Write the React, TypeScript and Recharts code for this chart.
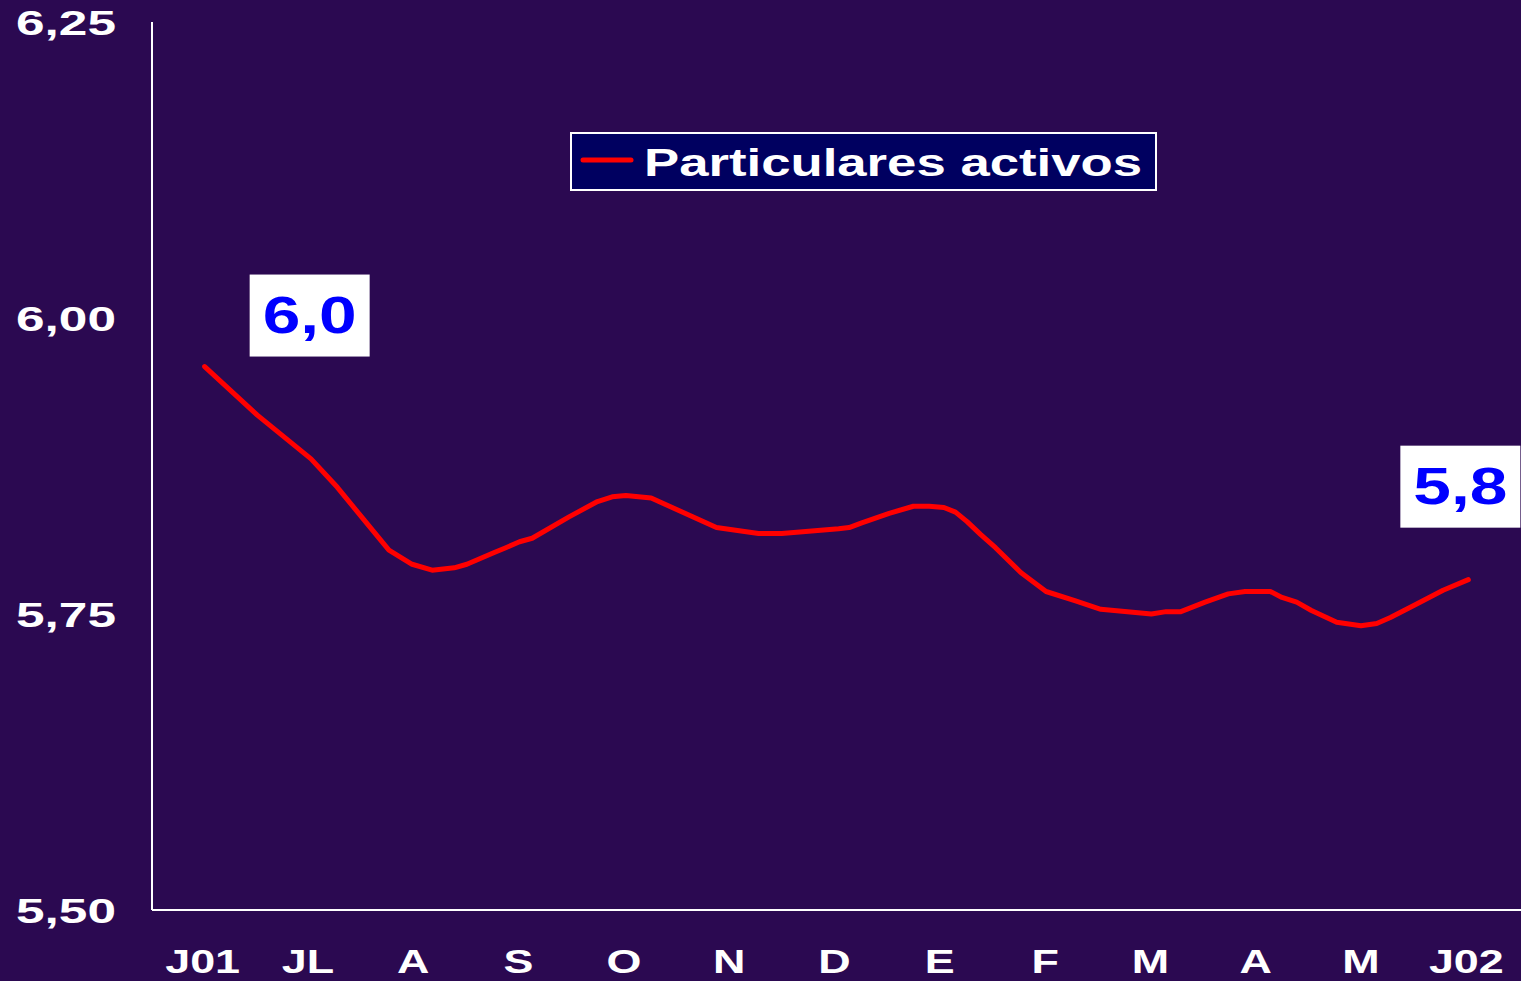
import { LineChart, Line, XAxis, YAxis } from "recharts";

const MESES = ["J01", "JL", "A", "S", "O", "N", "D", "E", "F", "M", "A", "M", "J02"];
const MES_TICKS = [0, 1, 2, 3, 4, 5, 6, 7, 8, 9, 10, 11, 12];
const Y_TICKS = [5.5, 5.75, 6, 6.25];

// posición en meses desde junio 2001 y tipo (%)
const POS = [
  0, 0.5, 1.01, 1.26, 1.49, 1.75, 1.97, 2.16, 2.37, 2.49, 2.75, 2.86, 2.99, 3.11, 3.46, 3.73, 3.87, 4.0,
  4.24, 4.86, 5.26, 5.48, 6.02, 6.12, 6.24, 6.5, 6.73, 6.88, 7.02, 7.13, 7.24, 7.37, 7.51, 7.75, 7.87,
  7.99, 8.27, 8.51, 8.99, 9.13, 9.27, 9.5, 9.72, 9.88, 10.12, 10.23, 10.37, 10.51, 10.75, 10.98, 11.13,
  11.26, 11.5, 11.76, 12.0,
];
const TIPO = [
  5.959, 5.918, 5.881, 5.857, 5.832, 5.804, 5.792, 5.787, 5.789, 5.792, 5.802, 5.806, 5.811, 5.814, 5.832,
  5.845, 5.849, 5.85, 5.848, 5.823, 5.818, 5.818, 5.822, 5.823, 5.827, 5.835, 5.841, 5.841, 5.84, 5.836,
  5.828, 5.817, 5.806, 5.785, 5.777, 5.769, 5.761, 5.754, 5.75, 5.752, 5.752, 5.76, 5.767, 5.769, 5.769,
  5.764, 5.76, 5.753, 5.743, 5.74, 5.742, 5.747, 5.758, 5.77, 5.779,
];
const ETIQUETAS = ["6,0", "5,8"];

const data = POS.map((m, i) => ({ m, tipo: TIPO[i] }));

const BG = "#2b0951";
const FONT = "'Liberation Sans', Arial, sans-serif";

function XTick(props: any) {
  const { x, y, payload } = props;
  return (
    <g transform={`translate(${x - 2},${y + 63})`}>
      <text transform="scale(1.32,1)" textAnchor="middle" fill="#fff" fontSize={34} fontWeight="bold" fontFamily={FONT}>
        {MESES[payload.value]}
      </text>
    </g>
  );
}

function YTick(props: any) {
  const { x, y, payload } = props;
  return (
    <text
      x={x - 36}
      y={y + 13}
      textAnchor="end"
      fill="#fff"
      fontSize={35}
      fontWeight="bold"
      fontFamily={FONT}
      textLength={100}
      lengthAdjust="spacingAndGlyphs"
    >
      {payload.value.toFixed(2).replace(".", ",")}
    </text>
  );
}

function PuntoLabel(props: any) {
  const { x, y, index } = props;
  const last = data.length - 1;
  if (index !== 0 && index !== last) return null;
  const first = index === 0;
  const rx = first ? x + 45 : x - 68;
  const ry = first ? y - 92 : y - 134;
  return (
    <g>
      <rect x={rx} y={ry} width={120} height={82} fill="#fff" />
      <text
        x={rx + 60}
        y={ry + 58}
        textAnchor="middle"
        fill="#0000ff"
        fontSize={51}
        fontWeight="bold"
        fontFamily={FONT}
        textLength={94}
        lengthAdjust="spacingAndGlyphs"
      >
        {first ? ETIQUETAS[0] : ETIQUETAS[1]}
      </text>
    </g>
  );
}

export default function App() {
  return (
    <div style={{ position: "absolute", left: 0, top: 0, width: 1521, height: 981, background: BG, overflow: "hidden" }}>
      <LineChart width={1521} height={981} data={data} margin={{ top: 22, right: 0, left: 0, bottom: 0 }}>
        <XAxis
          dataKey="m"
          type="number"
          domain={[-0.5, 12.5]}
          ticks={MES_TICKS}
          interval={0}
          height={71}
          tickLine={false}
          tickSize={0}
          tickMargin={0}
          axisLine={{ stroke: "#fff", strokeWidth: 2 }}
          tick={<XTick />}
        />
        <YAxis
          type="number"
          domain={[5.5, 6.25]}
          ticks={Y_TICKS}
          interval={0}
          width={152}
          tickLine={false}
          tickSize={0}
          tickMargin={0}
          axisLine={{ stroke: "#fff", strokeWidth: 2 }}
          tick={<YTick />}
        />
        <Line
          type="linear"
          dataKey="tipo"
          stroke="#ff0000"
          strokeWidth={5}
          strokeLinecap="round"
          strokeLinejoin="round"
          dot={false}
          label={<PuntoLabel />}
          isAnimationActive={false}
        />
      </LineChart>
      <svg style={{ position: "absolute", left: 570, top: 132 }} width={587} height={59}>
        <rect x={1} y={1} width={585} height={57} fill="#000060" stroke="#fff" strokeWidth={2} />
        <line x1={13} y1={28} x2={61} y2={28} stroke="#ff0000" strokeWidth={5} strokeLinecap="round" />
        <text
          x={74}
          y={44}
          fill="#fff"
          fontSize={38}
          fontWeight="bold"
          fontFamily={FONT}
          textLength={498}
          lengthAdjust="spacingAndGlyphs"
        >
          Particulares activos
        </text>
      </svg>
    </div>
  );
}
